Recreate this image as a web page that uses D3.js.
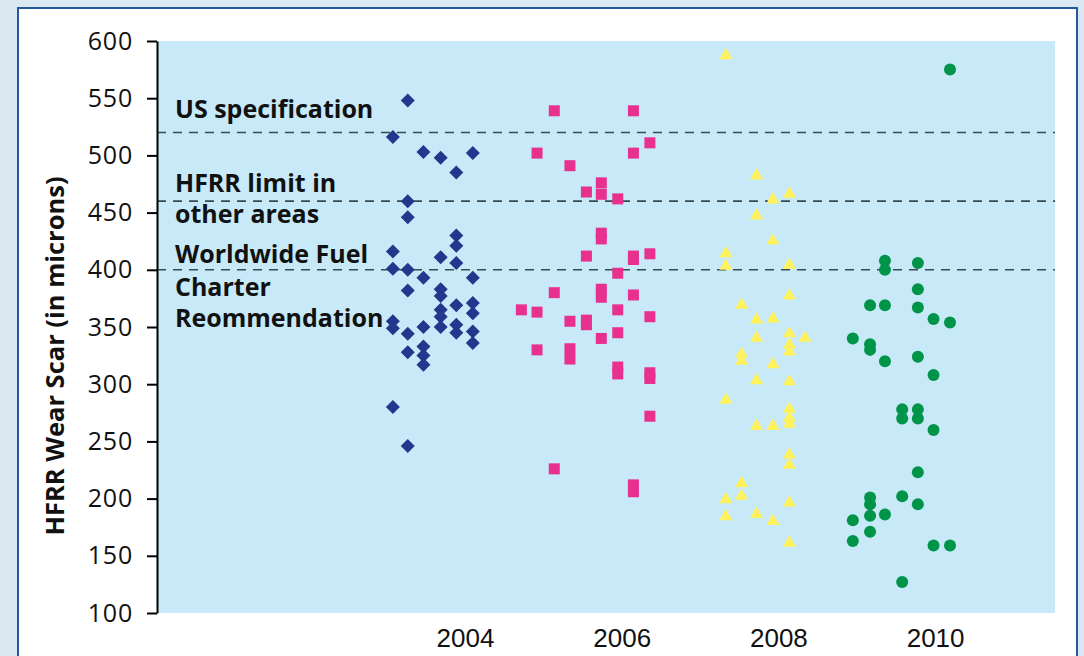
<!DOCTYPE html>
<html><head><meta charset="utf-8">
<script src="https://cdn.jsdelivr.net/npm/d3@7/dist/d3.min.js"></script>
<style>html,body{margin:0;padding:0;background:#dbe8f2;} svg{display:block;}</style>
</head><body>
<svg id="c" width="1084" height="656"></svg>
<script>
// ---- data ----
const yTicks = [100,150,200,250,300,350,400,450,500,550,600];
const xTicks = [2004,2006,2008,2010];
const refLines = [520,460,400];
const annotations = ["US specification","HFRR limit in","other areas","Worldwide Fuel","Charter","Reommendation"];
const yTitle = "HFRR Wear Scar (in microns)";

const s2004 = [[2003.27,548],[2003.08,516],[2003.47,503],[2003.69,498],[2004.10,502],[2003.89,485],[2003.27,460],[2003.27,446],[2003.89,430],[2003.89,421],[2003.08,416],[2003.69,411],[2003.89,406],[2003.08,401],[2003.27,400],[2003.47,393],[2004.10,393],[2003.27,382],[2003.69,383],[2003.69,377],[2003.89,369],[2004.10,371],[2003.69,365],[2003.69,359],[2004.10,362],[2003.08,355],[2003.08,349],[2003.47,350],[2003.69,350],[2003.89,352],[2003.89,345],[2003.27,344],[2004.10,346],[2004.10,336],[2003.47,333],[2003.27,328],[2003.47,325],[2003.47,317],[2003.08,280],[2003.27,246]];
const s2006 = [[2005.14,539],[2006.15,539],[2006.36,511],[2004.92,502],[2006.15,502],[2005.34,491],[2005.55,468],[2005.74,476],[2005.74,466],[2005.95,462],[2005.74,432],[2005.74,427],[2005.55,412],[2006.15,412],[2006.15,409],[2006.36,414],[2005.95,397],[2005.14,380],[2005.74,383],[2005.74,376],[2006.15,378],[2004.72,365],[2004.92,363],[2005.95,365],[2006.36,359],[2005.34,355],[2005.55,356],[2005.55,352],[2005.74,340],[2005.95,345],[2004.92,330],[2005.34,331],[2005.34,322],[2005.95,315],[2005.95,309],[2006.36,310],[2006.36,305],[2006.36,272],[2005.14,226],[2006.15,212],[2006.15,206]];
const s2008 = [[2007.33,589],[2007.72,484],[2007.93,463],[2008.14,468],[2007.72,449],[2007.93,427],[2007.33,416],[2007.33,405],[2008.14,406],[2008.14,379],[2007.53,371],[2007.72,358],[2007.93,359],[2008.14,346],[2008.34,342],[2007.72,342],[2008.14,336],[2008.14,330],[2007.53,328],[2007.53,322],[2007.93,319],[2007.72,305],[2008.14,304],[2007.33,288],[2008.14,280],[2008.14,272],[2008.14,267],[2007.72,265],[2007.93,265],[2008.14,240],[2008.14,231],[2007.53,215],[2007.53,204],[2007.33,201],[2008.14,198],[2007.33,186],[2007.72,188],[2007.93,182],[2008.14,163]];
const s2010 = [[2010.19,575],[2009.36,408],[2009.36,400],[2009.78,406],[2009.78,383],[2009.17,369],[2009.36,369],[2009.78,367],[2009.98,357],[2010.19,354],[2008.95,340],[2009.17,335],[2009.17,330],[2009.36,320],[2009.78,324],[2009.98,308],[2009.58,278],[2009.78,278],[2009.58,270],[2009.78,270],[2009.98,260],[2009.78,223],[2009.17,201],[2009.17,195],[2009.58,202],[2009.78,195],[2009.36,186],[2009.17,185],[2008.95,181],[2009.17,171],[2008.95,163],[2009.98,159],[2010.19,159],[2009.58,127]];

// ---- layout ----
const W = 1084, H = 656;
const P = {l:157, r:1055, t:41, b:613};
const svg = d3.select("#c");
const x = d3.scaleLinear().domain([2000.07, 2011.53]).range([P.l, P.r]);
const y = d3.scaleLinear().domain([100, 600]).range([P.b, P.t]);

svg.append("rect").attr("width", W).attr("height", H).attr("fill", "#dbe8f2");
svg.append("rect").attr("x", 18).attr("y", 8).attr("width", 1059).attr("height", 700)
  .attr("fill", "#ffffff").attr("stroke", "#23599c").attr("stroke-width", 2);

svg.append("rect").attr("x", P.l).attr("y", y(600)).attr("width", P.r - P.l).attr("height", y(100) - y(600))
  .attr("fill", "#c7e9f8");

svg.selectAll("line.ref").data(refLines).join("line").attr("class","ref")
  .attr("x1", P.l).attr("x2", P.r).attr("y1", d => y(d)).attr("y2", d => y(d))
  .attr("stroke", "#3c4a52").attr("stroke-width", 1.6).attr("stroke-dasharray", "9,7");

// annotations
const annY = [118, 192, 223, 263, 296, 327];
svg.selectAll("text.ann").data(annotations).join("text").attr("class","ann")
  .attr("x", 175).attr("y", (d,i) => annY[i])
  .attr("font-family", "'Open Sans', sans-serif").attr("font-weight", 700).attr("font-size", 25)
  .attr("fill", "#111").text(d => d);

// y axis
const ya = svg.append("g").attr("transform", `translate(${P.l},0)`)
  .call(d3.axisLeft(y).tickValues(yTicks).tickSize(10).tickSizeOuter(0).tickPadding(14));
ya.select(".domain").attr("stroke", "#000").attr("stroke-width", 2);
ya.selectAll(".tick line").attr("stroke", "#000").attr("stroke-width", 2);
ya.selectAll(".tick text").attr("font-family", "'Open Sans', sans-serif").attr("font-size", 25)
  .attr("letter-spacing", 0.8).attr("fill", "#111");

// x axis
const xa = svg.append("g").attr("transform", `translate(0,${P.b})`)
  .call(d3.axisBottom(x).tickValues(xTicks).tickFormat(d3.format("d")).tickSize(0).tickPadding(16));
xa.select(".domain").remove();
xa.selectAll(".tick text").attr("font-family", "'Liberation Sans', sans-serif").attr("font-size", 26).attr("fill", "#111");

// y title
svg.append("text").attr("transform", "translate(64,356) rotate(-90)").attr("text-anchor", "middle")
  .attr("font-family", "'Open Sans', sans-serif").attr("font-weight", 700).attr("font-size", 25.5)
  .attr("fill", "#111").text(yTitle);

// marks
const g = svg.append("g");
g.selectAll("path.dia").data(s2004).join("path").attr("class","dia")
  .attr("d", d3.symbol(d3.symbolSquare, 98)())
  .attr("transform", d => `translate(${x(d[0])},${y(d[1])}) rotate(45)`)
  .attr("fill", "#22388d");
g.selectAll("path.sq").data(s2006).join("path").attr("class","sq")
  .attr("d", d3.symbol(d3.symbolSquare, 121)())
  .attr("transform", d => `translate(${x(d[0])},${y(d[1])})`)
  .attr("fill", "#e8308f");
const triSize = 75, triOff = Math.sqrt(triSize/(Math.sqrt(3)*3))/2;
g.selectAll("path.tri").data(s2008).join("path").attr("class","tri")
  .attr("d", d3.symbol(d3.symbolTriangle, triSize)())
  .attr("transform", d => `translate(${x(d[0])},${y(d[1]) + triOff})`)
  .attr("fill", "#fff25c");
g.selectAll("circle.dot").data(s2010).join("circle").attr("class","dot")
  .attr("cx", d => x(d[0])).attr("cy", d => y(d[1])).attr("r", 6)
  .attr("fill", "#009449");
</script>
</body></html>
